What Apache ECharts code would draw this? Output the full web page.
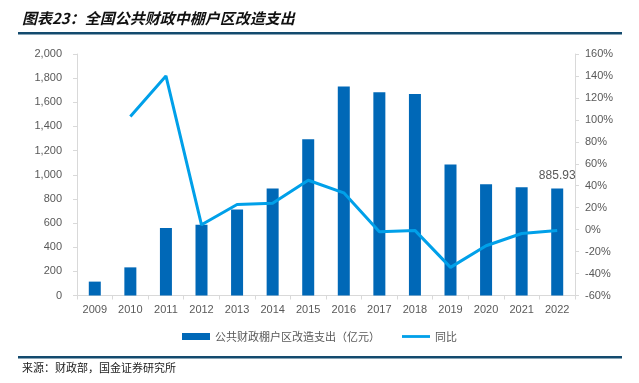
<!DOCTYPE html>
<html>
<head>
<meta charset="utf-8">
<script src="https://cdn.jsdelivr.net/npm/echarts@6/dist/echarts.min.js"></script>
<style>html,body{margin:0;padding:0;background:#fff;}#c{width:639px;height:383px;}</style>
</head>
<body>
<div id="c"></div>
<script>
const categories = ['2009','2010','2011','2012','2013','2014','2015','2016','2017','2018','2019','2020','2021','2022'];
const spending = [115, 233, 558, 585, 712, 886, 1293, 1731, 1684, 1668, 1084, 921, 896, 885.93];
const yoy = [null, 103, 140, 4.4, 22.9, 24.1, 45, 33.5, -2, -0.7, -34.4, -14.7, -3.5, -0.7];
const barName = '公共财政棚户区改造支出（亿元）';
const lineName = '同比';

const chart = echarts.init(document.getElementById('c'), null, {renderer: 'canvas'});
const axisFont = {fontFamily: 'Liberation Sans, Arial, sans-serif', fontSize: 11, color: '#595959'};
chart.setOption({
  animation: false,
  backgroundColor: '#fff',
  grid: {left: 77, right: 64, top: 54, bottom: 87.5},
  graphic: [
    {type: 'text', left: 22, top: 11, style: {text: '图表23：全国公共财政中棚户区改造支出', font: 'italic bold 15px "Noto Sans CJK SC", sans-serif', fill: '#111'}},
    {type: 'rect', shape: {x: 18, y: 32, width: 604, height: 2.5}, style: {fill: '#134a6e'}},
    {type: 'rect', shape: {x: 18, y: 356, width: 604, height: 2.5}, style: {fill: '#134a6e'}},
    {type: 'text', left: 22, top: 362, style: {text: '来源：财政部，国金证券研究所', font: '11px "Noto Sans CJK SC", sans-serif', fill: '#222'}}
  ],
  legend: {
    bottom: 36,
    left: 'center',
    itemGap: 22,
    itemWidth: 28,
    itemHeight: 7,
    textStyle: {fontFamily: '"Noto Sans CJK SC", sans-serif', fontSize: 11, color: '#595959'},
    data: [
      {name: barName, icon: 'rect'},
      {name: lineName, icon: 'path://M0,0H30V3H0Z'}
    ]
  },
  xAxis: {
    type: 'category',
    data: categories,
    axisLine: {lineStyle: {color: '#d9d9d9'}},
    axisTick: {show: true, alignWithLabel: false, length: 4, lineStyle: {color: '#d9d9d9'}},
    axisLabel: Object.assign({margin: 9}, axisFont)
  },
  yAxis: [
    {
      type: 'value', min: 0, max: 2000, interval: 200,
      axisLine: {show: true, lineStyle: {color: '#d9d9d9'}},
      axisTick: {show: true, length: 4, lineStyle: {color: '#d9d9d9'}},
      splitLine: {show: false},
      axisLabel: Object.assign({margin: 15, formatter: v => v.toLocaleString('en-US')}, axisFont)
    },
    {
      type: 'value', min: -60, max: 160, interval: 20,
      axisLine: {show: true, lineStyle: {color: '#d9d9d9'}},
      axisTick: {show: true, length: 4, lineStyle: {color: '#d9d9d9'}},
      splitLine: {show: false},
      axisLabel: Object.assign({margin: 10, formatter: v => v + '%'}, axisFont)
    }
  ],
  series: [
    {
      name: barName, type: 'bar', data: spending, barWidth: 12,
      itemStyle: {color: '#0068b7'},
      label: {
        show: true, position: 'top', distance: 7,
        formatter: p => p.dataIndex === spending.length - 1 ? String(p.value) : '',
        fontFamily: 'Liberation Sans, Arial, sans-serif', fontSize: 12, color: '#595959'
      }
    },
    {
      name: lineName, type: 'line', yAxisIndex: 1, data: yoy,
      symbol: 'none', showSymbol: false,
      lineStyle: {color: '#00a0e9', width: 3},
      itemStyle: {color: '#00a0e9'}
    }
  ]
});
</script>
</body>
</html>
